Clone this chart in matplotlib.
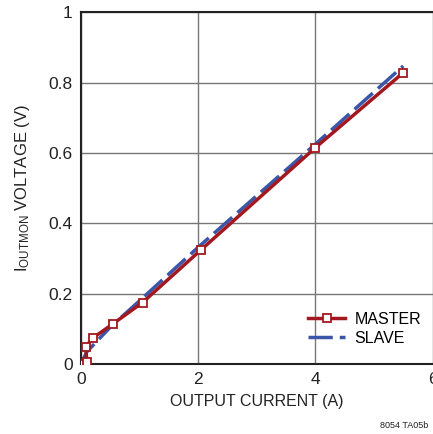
import matplotlib.pyplot as plt

plt.rcParams['font.family'] = ['Liberation Sans', 'DejaVu Sans']

# data
master_x = [0, 0.1, 0.08, 0.21, 0.55, 1.05, 2.05, 4.0, 5.5]
master_y = [0, 0.007, 0.05, 0.075, 0.115, 0.175, 0.325, 0.615, 0.828]
slave_x = [0, 0.1, 0.5, 1.0, 2.0, 4.0, 5.5]
slave_y = [0, 0.035, 0.105, 0.18, 0.332, 0.625, 0.847]

xticks = [0, 2, 4, 6]
yticks = [0, 0.2, 0.4, 0.6, 0.8, 1]
yticklabels = ['0', '0.2', '0.4', '0.6', '0.8', '1']

fig = plt.figure(figsize=(4.33, 4.34), dpi=100)
ax = fig.add_axes([0.187, 0.161, 0.812, 0.811])

ax.plot(slave_x, slave_y, color='#3a56a8', lw=2.5, dashes=(7, 2), label='SLAVE', zorder=3)
ax.plot(master_x, master_y, color='#a3181e', lw=2.5, marker='s', ms=6,
        mfc='white', mec='#a3181e', mew=1.3, label='MASTER', zorder=4)

ax.set_xlim(0, 6)
ax.set_ylim(0, 1)
ax.set_xticks(xticks)
ax.set_yticks(yticks)
ax.set_yticklabels(yticklabels)
ax.tick_params(length=0, labelsize=12.5, pad=6, colors='#222222')
ax.grid(True, color='#777777', lw=1)
for s in ['left', 'bottom', 'top']:
    ax.spines[s].set_color('#222222')
    ax.spines[s].set_linewidth(1.5)
ax.spines['right'].set_visible(False)

ax.set_xlabel('OUTPUT CURRENT (A)', fontsize=11.5, color='#222222', labelpad=5)
ax.set_ylabel(r'$\mathregular{I_{OUTMON}}$ VOLTAGE (V)', fontsize=12, color='#222222', labelpad=12)

h, l = ax.get_legend_handles_labels()
leg = ax.legend(h[::-1], l[::-1], loc='lower right', frameon=False, fontsize=11.5,
                handlelength=2.3, handletextpad=0.6, borderaxespad=0.3, labelspacing=0.25,
                bbox_to_anchor=(1.0, 0.02))

fig.text(0.99, 0.01, '8054 TA05b', ha='right', va='bottom', fontsize=6.5, color='#222222')

fig.savefig('out.png', dpi=100)
